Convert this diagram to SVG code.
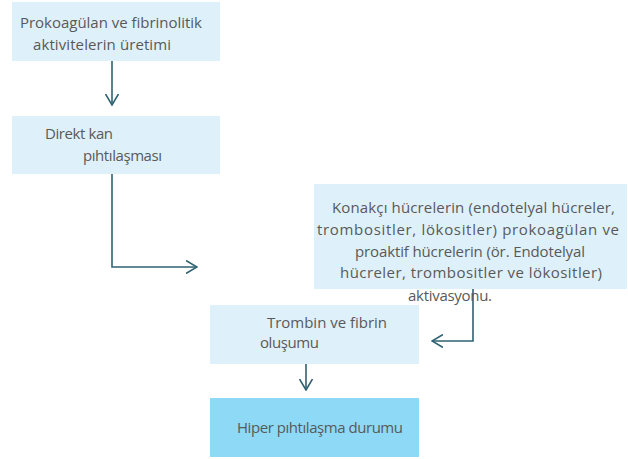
<svg xmlns="http://www.w3.org/2000/svg" width="628" height="459" viewBox="0 0 628 459">
<defs>
<style>
.box{fill:#def1fb}
.dark{fill:#8ed9f6}
.t{font-family:"Open Sans","Liberation Sans",sans-serif;font-size:15px;fill:#595959}
.c{fill:none;stroke:#2f6272;stroke-width:1.6}
</style>
<marker id="ah" viewBox="0 0 12 14" refX="11" refY="7" markerWidth="12" markerHeight="14" markerUnits="userSpaceOnUse" orient="auto">
<path d="M0,0.5 L11,7 L0,13.5" fill="none" stroke="#2f6272" stroke-width="1.6"/>
</marker>
</defs>
<rect width="628" height="459" fill="#ffffff"/>
<g id="connectors">
<path class="c" d="M112,61 V105" marker-end="url(#ah)"/>
<path class="c" d="M112,174 V267 H197" marker-end="url(#ah)"/>
<path class="c" d="M473,289 V341 H432" marker-end="url(#ah)"/>
<path class="c" d="M306,364 V390" marker-end="url(#ah)"/>
</g>
<g id="n1">
<rect class="box" x="12" y="2" width="208" height="59"/>
<text class="t" x="20" y="28" textLength="182">Prokoagülan ve fibrinolitik</text>
<text class="t" x="33" y="50" textLength="138">aktivitelerin üretimi</text>
</g>
<g id="n2">
<rect class="box" x="12" y="116" width="208" height="58"/>
<text class="t" x="45" y="139" textLength="68">Direkt kan</text>
<text class="t" x="83" y="161" textLength="79">pıhtılaşması</text>
</g>
<g id="n3">
<rect class="box" x="314" y="184" width="313" height="105"/>
<text class="t" x="332" y="213" textLength="283">Konakçı hücrelerin (endotelyal hücreler,</text>
<text class="t" x="317" y="235" textLength="302">trombositler, lökositler) prokoagülan ve</text>
<text class="t" x="355" y="257" textLength="230">proaktif hücrelerin (ör. Endotelyal</text>
<text class="t" x="340" y="278" textLength="262">hücreler, trombositler ve lökositler)</text>
<text class="t" x="408" y="301" textLength="84">aktivasyonu.</text>
</g>
<g id="n4">
<rect class="box" x="210" y="305" width="209" height="59"/>
<text class="t" x="267" y="328" textLength="120">Trombin ve fibrin</text>
<text class="t" x="260" y="348" textLength="59">oluşumu</text>
</g>
<g id="n5">
<rect class="dark" x="210" y="398" width="209" height="59"/>
<text class="t" x="237" y="433" textLength="166">Hiper pıhtılaşma durumu</text>
</g>
</svg>
